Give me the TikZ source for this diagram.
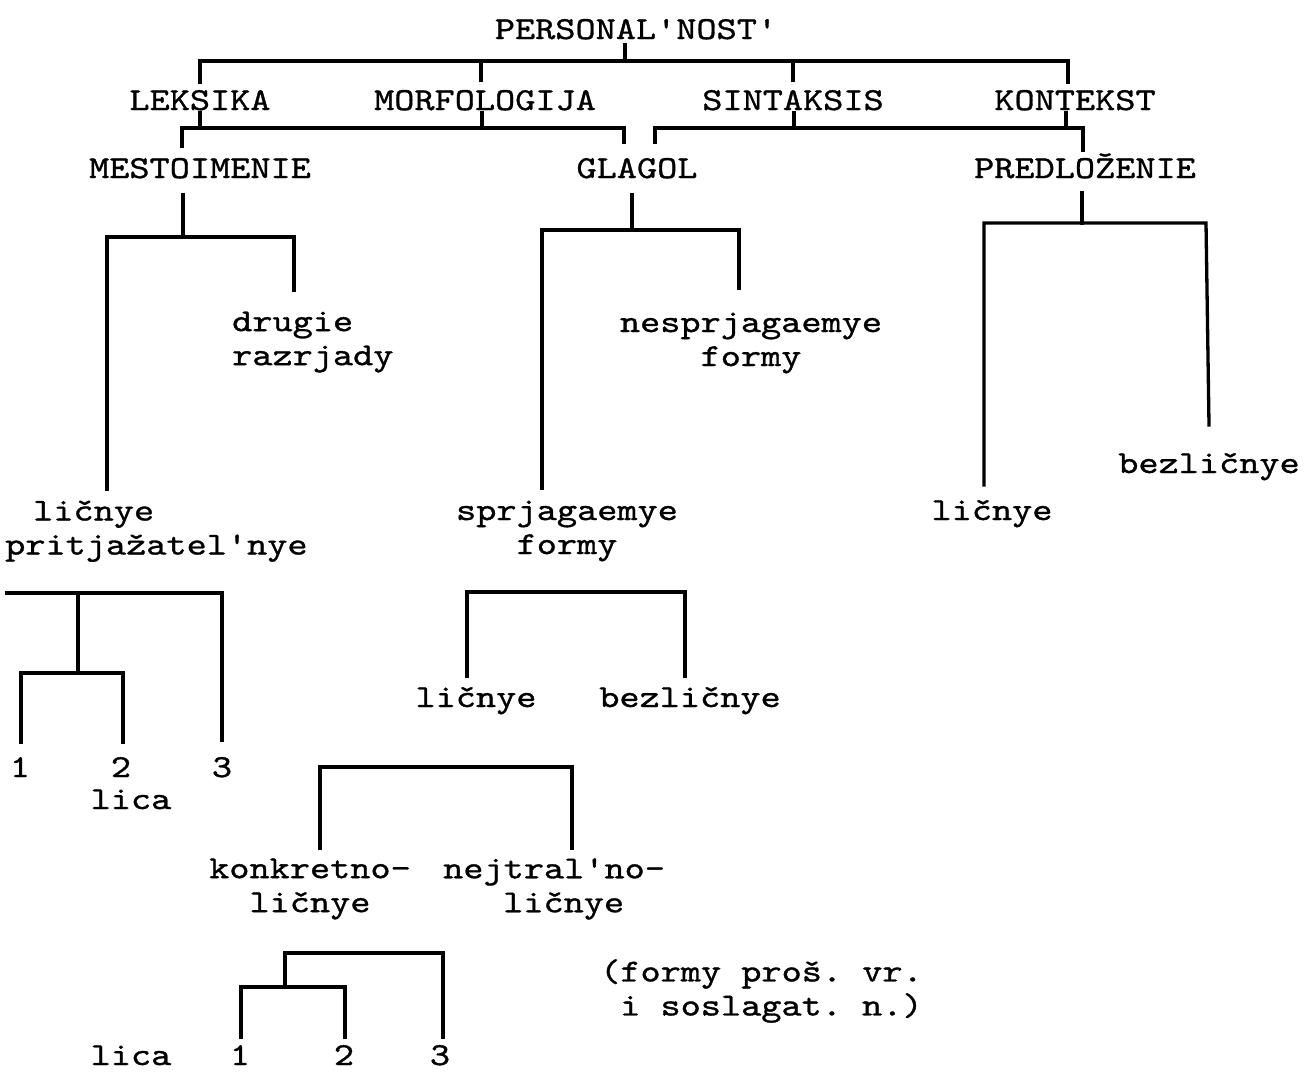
\documentclass[tikz,border=0pt]{standalone}
\usepackage{fontspec}
\newfontfamily\tw{lmmono10-regular.otf}[FakeStretch=1.2,FakeBold=1,Ligatures=TeXOff]
\begin{document}
\frenchspacing
\begin{tikzpicture}[x=1pt,y=-1pt,
  lab/.style={font={\tw\fontsize{32}{34}\selectfont},inner sep=0pt,align=center},
  labl/.style={lab,align=left},
  br/.style={line width=3.3pt,line join=miter,line cap=rect}]
\useasboundingbox (0,0) rectangle (1308,1071);

% ---- labels ----
\node[lab,anchor=base] (pers) at (636,39) {PERSONAL'NOST'};
\node[lab,anchor=base] (lek)  at (200,110) {LEKSIKA};
\node[lab,anchor=base] (morf) at (485,110) {MORFOLOGIJA};
\node[lab,anchor=base] (sint) at (793,110) {SINTAKSIS};
\node[lab,anchor=base] (kont) at (1075,110) {KONTEKST};
\node[lab,anchor=base] (mest) at (200,178) {MESTOIMENIE};
\node[lab,anchor=base] (glag) at (637,178) {GLAGOL};
\node[lab,anchor=base] (pred) at (1085,178) {PREDLOŽENIE};

\node[labl,anchor=west] (drug) at (232,342) {drugie\\razrjady};
\node[lab] (nespr) at (751,343) {nesprjagaemye\\formy};
\node[labl,anchor=west] (licpr) at (5,531) {\hspace*{28pt}ličnye\\pritjažatel'nye};
\node[lab] (spr) at (567,531) {sprjagaemye\\formy};
\node[lab,anchor=base] (bezP) at (1209,473) {bezličnye};
\node[lab,anchor=base] (licP) at (992,520) {ličnye};

\node[lab,anchor=base] (licS) at (476,707) {ličnye};
\node[lab,anchor=base] (bezS) at (690,707) {bezličnye};

\node[lab,anchor=base] (a1) at (20,777) {1};
\node[lab,anchor=base] (a2) at (121,777) {2};
\node[lab,anchor=base] (a3) at (222,777) {3};
\node[lab,anchor=base] (licaA) at (131,809) {lica};

\node[lab] (konk) at (310,889) {konkretno-\\ličnye};
\node[labl,anchor=west] (nejt) at (443,889) {nejtral'no-\\\hspace*{60pt}ličnye};

\node[labl,anchor=west] (note) at (600,991) {(formy proš. vr.\\\hspace*{20pt}i soslagat. n.)};

\node[lab,anchor=base] (licaB) at (131,1065) {lica};
\node[lab,anchor=base] (b1) at (240,1065) {1};
\node[lab,anchor=base] (b2) at (344,1065) {2};
\node[lab,anchor=base] (b3) at (440,1065) {3};

% ---- brackets ----
% PERSONAL'NOST' -> four fields
\draw[br] (625,45) -- (625,61);
\draw[br] (200,82) -- (200,61) -- (1068,61) -- (1068,82);
\draw[br] (481,61) -- (481,80);
\draw[br] (793,61) -- (793,80);

% fields -> MESTOIMENIE, GLAGOL, PREDLOZENIE
\draw[br] (200,113) -- (200,128);
\draw[br] (482,113) -- (482,128);
\draw[br] (182,146) -- (182,128) -- (624,128) -- (624,142);
\draw[br] (794,113) -- (794,128);
\draw[br] (1066,113) -- (1066,128);
\draw[br] (655,142) -- (655,128) -- (1083,128) -- (1083,150);

% MESTOIMENIE
\draw[br] (183,195) -- (183,237);
\draw[br] (107,489) -- (107,237) -- (294,237) -- (294,290);

% GLAGOL
\draw[br] (632,195) -- (632,230);
\draw[br] (542,488) -- (542,230) -- (739,230) -- (739,288);

% PREDLOZENIE
\draw[br] (1082,193) -- (1082,223);
\draw[br] (984,485) -- (984,223) -- (1206,223) -- (1209,425);

% licnye / pritjazatel'nye -> persons
\draw[br] (7,593) -- (222,593) -- (222,740);
\draw[br] (78,593) -- (78,673);
\draw[br] (21,742) -- (21,673) -- (123,673) -- (123,742);

% sprjagaemye formy
\draw[br] (467,676) -- (467,592) -- (685,592) -- (685,676);

% konkretno- / nejtral'no-
\draw[br] (320,848) -- (320,767) -- (572,767) -- (572,848);

% konkretno-licnye -> persons
\draw[br] (285,987) -- (285,953) -- (443,953) -- (443,1037);
\draw[br] (241,1037) -- (241,987) -- (345,987) -- (345,1037);
\end{tikzpicture}
\end{document}
